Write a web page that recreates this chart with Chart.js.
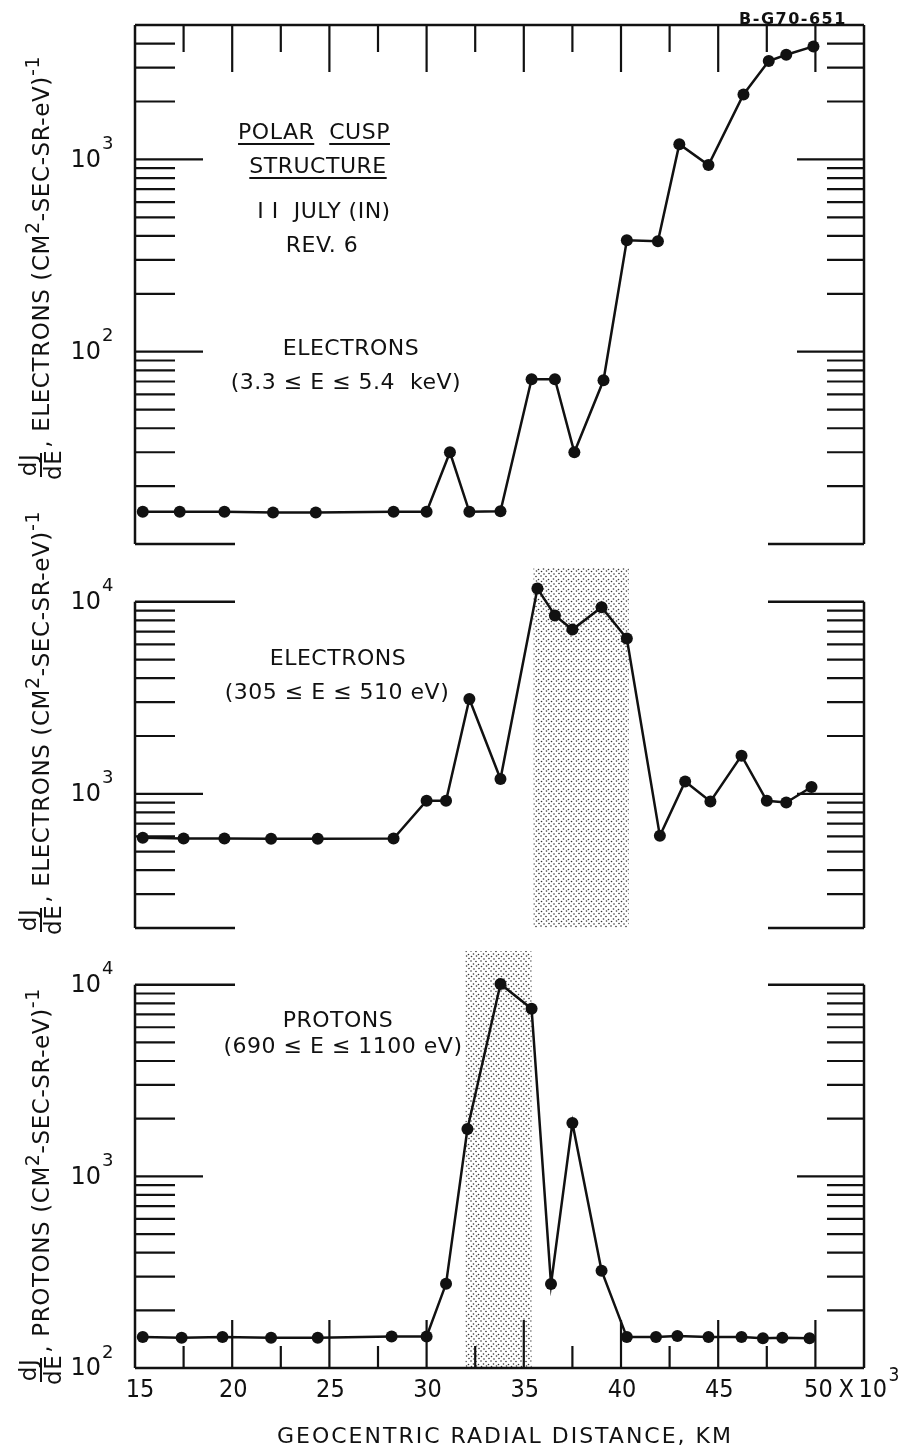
<!DOCTYPE html>
<html lang="en">
<head>
  <meta charset="UTF-8"/>
  <title>Polar Cusp Structure</title>
  <script src="https://cdn.jsdelivr.net/npm/chart.js"></script>
  <style>
    body { margin: 0; background: #fff; }
    #page { position: relative; width: 910px; height: 1454px; background: #fff; overflow: hidden; font-family: 'DejaVu Sans', sans-serif; color: #111; }
    canvas { position: absolute; left: 0; }
    .note { position: absolute; font-size: 22px; line-height: 22px; white-space: nowrap; transform: translate(-50%, -50%); letter-spacing: 0.5px; }
    .note u { text-decoration-thickness: 2px; text-underline-offset: 4px; }
    .ytitle { position: absolute; left: 41px; height: 50px; display: flex; align-items: center; white-space: nowrap;
      font-size: 23px; letter-spacing: 0.6px; transform-origin: 0 50%; transform: rotate(-90deg); }
    .ytitle sup { font-size: 19px; position: relative; top: -9px; line-height: 0; }
    .frac { display: inline-flex; flex-direction: column; align-items: center; font-size: 23px; line-height: 21px; margin-right: 2px; }
    .frac span:first-child { border-bottom: 2px solid #111; padding: 0 1px 1px; }
    .frac span:last-child { padding-top: 1px; }
  </style>
</head>
<body>
  <div id="page">
    <canvas id="c1" width="910" height="560" style="top:0"></canvas>
    <canvas id="c2" width="910" height="395" style="top:545px"></canvas>
    <canvas id="c3" width="910" height="514" style="top:940px"></canvas>

    <div class="note" style="left:793px; top:19px; font-size:16px; font-weight:bold; letter-spacing:1.5px">B-G70-651</div>

    <div class="note" style="left:314px; top:132px"><u>POLAR</u>&nbsp; <u>CUSP</u></div>
    <div class="note" style="left:318px; top:166px"><u>STRUCTURE</u></div>
    <div class="note" style="left:324px; top:211px">I I &nbsp;JULY (IN)</div>
    <div class="note" style="left:322px; top:245px">REV. 6</div>
    <div class="note" style="left:351px; top:348px">ELECTRONS</div>
    <div class="note" style="left:346px; top:382px">(3.3 ≤ E ≤ 5.4 &nbsp;keV)</div>

    <div class="note" style="left:338px; top:658px">ELECTRONS</div>
    <div class="note" style="left:337px; top:692px">(305 ≤ E ≤ 510 eV)</div>

    <div class="note" style="left:338px; top:1020px">PROTONS</div>
    <div class="note" style="left:343px; top:1046px">(690 ≤ E ≤ 1100 eV)</div>

    <div class="note" style="left:505px; top:1436px; letter-spacing:2px">GEOCENTRIC RADIAL DISTANCE, KM</div>

    <div class="ytitle" style="top:455px"><span class="frac"><span>dJ</span><span>dE</span></span>, ELECTRONS (CM<sup>2</sup>-SEC-SR-eV)<sup>-1</sup></div>
    <div class="ytitle" style="top:910px"><span class="frac"><span>dJ</span><span>dE</span></span>, ELECTRONS (CM<sup>2</sup>-SEC-SR-eV)<sup>-1</sup></div>
    <div class="ytitle" style="top:1360px"><span class="frac"><span>dJ</span><span>dE</span></span>, PROTONS (CM<sup>2</sup>-SEC-SR-eV)<sup>-1</sup></div>
  </div>

  <script>
    // x axis, geocentric radial distance (10^3 km)
    const xRange = [15, 52.5]
    const xLabels = [15, 20, 25, 30, 35, 40, 45, 50]
    const xTickMarks = [17.5, 20, 22.5, 25, 27.5, 30, 32.5, 35, 37.5, 40, 42.5, 45, 47.5, 50]

    // electrons 3.3 - 5.4 keV
    const hiX = [15.4, 17.3, 19.6, 22.1, 24.3, 28.3, 30.0, 31.2, 32.2, 33.8, 35.4, 36.6, 37.6, 39.1, 40.3, 41.9, 43.0, 44.5, 46.3, 47.6, 48.5, 49.9]
    const hiY = [14.7, 14.7, 14.7, 14.6, 14.6, 14.7, 14.7, 30, 14.7, 14.8, 72, 72, 30, 71, 380, 375, 1200, 935, 2175, 3250, 3500, 3870]

    // electrons 305 - 510 eV
    const loX = [15.4, 17.5, 19.6, 22.0, 24.4, 28.3, 30.0, 31.0, 32.2, 33.8, 35.7, 36.6, 37.5, 39.0, 40.3, 42.0, 43.3, 44.6, 46.2, 47.5, 48.5, 49.8]
    const loY = [590, 585, 585, 583, 583, 585, 920, 920, 3120, 1195, 11740, 8490, 7170, 9380, 6440, 604, 1160, 912, 1580, 920, 900, 1085]

    // protons 690 - 1100 eV
    const prX = [15.4, 17.4, 19.5, 22.0, 24.4, 28.2, 30.0, 31.0, 32.1, 33.8, 35.4, 36.4, 37.5, 39.0, 40.3, 41.8, 42.9, 44.5, 46.2, 47.3, 48.3, 49.7]
    const prY = [145, 144, 145, 144, 144, 146, 146, 275, 1765, 10100, 7500, 274, 1900, 322, 145, 145, 147, 145, 145, 143, 144, 143]

    // y tick labels (powers of ten) and cusp shading ranges
    const hiLabels = [100, 1000]
    const loLabels = [1000, 10000]
    const prLabels = [100, 1000, 10000]
    const loShade = [35.5, 40.4]
    const prShade = [32.0, 35.4]

    const INK = '#111'

    // stipple pattern for the shaded cusp region
    function stipple() {
      const c = document.createElement('canvas')
      c.width = 10; c.height = 10
      const g = c.getContext('2d')
      g.fillStyle = '#333'
      const dots = [[1, 1], [6, 1.5], [3.5, 4], [8.5, 4.5], [1.5, 6.5], [6.5, 6], [4, 9], [9, 8.5]]
      dots.forEach(d => { g.beginPath(); g.arc(d[0], d[1], 0.8, 0, Math.PI * 2); g.fill() })
      return c
    }

    function line(ctx, x1, y1, x2, y2) {
      ctx.beginPath(); ctx.moveTo(x1, y1); ctx.lineTo(x2, y2); ctx.stroke()
    }

    function drawPow(ctx, x, y, v) {
      const e = Math.round(Math.log10(v))
      ctx.fillStyle = INK
      ctx.textBaseline = 'middle'
      ctx.font = '24px "DejaVu Sans"'
      ctx.textAlign = 'right'
      ctx.fillText('10', x, y + 1)
      ctx.font = '18px "DejaVu Sans"'
      ctx.textAlign = 'left'
      ctx.fillText(String(e), x + 1, y - 15)
    }

    const framePlugin = {
      id: 'frame',
      beforeDatasetsDraw(chart, args, opts) {
        if (!opts.shade) return
        const { ctx, chartArea, scales } = chart
        const x1 = scales.x.getPixelForValue(opts.shade[0])
        const x2 = scales.x.getPixelForValue(opts.shade[1])
        ctx.save()
        ctx.fillStyle = ctx.createPattern(stipple(), 'repeat')
        ctx.fillRect(x1, chartArea.top, x2 - x1, chartArea.bottom - chartArea.top)
        ctx.restore()
      },
      afterDraw(chart, args, opts) {
        const { ctx, chartArea, scales } = chart
        const L = chartArea.left, R = chartArea.right
        const yTop = scales.y.getPixelForValue(opts.axisTop)
        const yBot = scales.y.getPixelForValue(opts.axisBottom)
        ctx.save()
        ctx.strokeStyle = INK
        ctx.lineWidth = 2.5
        line(ctx, L, yTop, L, yBot)
        line(ctx, R, yTop, R, yBot)
        if (opts.topLine) line(ctx, L, yTop, R, yTop)
        if (opts.capTop) { line(ctx, L, yTop, L + 100, yTop); line(ctx, R - 96, yTop, R, yTop) }
        if (opts.capBottom) { line(ctx, L, yBot, L + 100, yBot); line(ctx, R - 96, yBot, R, yBot) }
        if (opts.bottomAxis) line(ctx, L, yBot, R, yBot)

        ctx.lineWidth = 2.2
        xTickMarks.forEach(v => {
          const px = scales.x.getPixelForValue(v)
          const major = v % 5 === 0
          if (opts.topTicks) line(ctx, px, yTop, px, yTop + (major ? 47 : 27))
          if (opts.bottomAxis) line(ctx, px, yBot, px, yBot - (major ? 48 : 22))
        })

        // log ticks: long at powers of ten, short at 2..9 multiples
        const k0 = Math.floor(Math.log10(opts.axisBottom)), k1 = Math.ceil(Math.log10(opts.axisTop))
        for (let k = k0; k <= k1; k++) {
          for (let m = 1; m <= 9; m++) {
            const v = m * Math.pow(10, k)
            if (v <= opts.axisBottom * 1.001 || v >= opts.axisTop * 0.999) continue
            const py = scales.y.getPixelForValue(v)
            const major = m === 1
            line(ctx, L, py, L + (major ? 68 : 40), py)
            line(ctx, R - (major ? 67 : 37), py, R, py)
          }
        }

        opts.labels.forEach(v => drawPow(ctx, 101, scales.y.getPixelForValue(v), v))

        if (opts.xLabels) {
          ctx.fillStyle = INK
          ctx.textBaseline = 'middle'
          ctx.font = '25px "DejaVu Sans Condensed", "DejaVu Sans"'
          const ly = yBot + 22
          xLabels.forEach(v => {
            const px = scales.x.getPixelForValue(v)
            if (v === 50) {
              ctx.textAlign = 'center'
              ctx.fillText('50', px + 3, ly)
              ctx.textAlign = 'left'
              ctx.fillText('X', px + 23, ly)
              ctx.fillText('10', px + 43, ly)
              ctx.font = '19px "DejaVu Sans Condensed", "DejaVu Sans"'
              ctx.fillText('3', px + 73, ly - 14)
              ctx.font = '25px "DejaVu Sans Condensed", "DejaVu Sans"'
            } else {
              ctx.textAlign = 'center'
              ctx.fillText(String(v), px + (v === 15 ? 5 : 1), ly)
            }
          })
        }
        ctx.restore()
      }
    }

    function makePanel(id, xs, ys, pad, yMin, yMax, frame) {
      return new Chart(document.getElementById(id), {
        type: 'line',
        data: {
          datasets: [{
            data: xs.map((x, i) => ({ x: x, y: ys[i] })),
            borderColor: INK,
            borderWidth: 2.5,
            pointRadius: 6,
            pointBackgroundColor: INK,
            pointBorderWidth: 0,
            tension: 0,
            clip: false
          }]
        },
        options: {
          responsive: false,
          animation: false,
          layout: { padding: pad },
          scales: {
            x: { type: 'linear', min: xRange[0], max: xRange[1], display: false },
            y: { type: 'logarithmic', min: yMin, max: yMax, display: false }
          },
          plugins: { legend: { display: false }, tooltip: { enabled: false }, frame: frame }
        },
        plugins: [framePlugin]
      })
    }

    makePanel('c1', hiX, hiY, { left: 135, right: 46, top: 25, bottom: 16 }, 10, 5000,
      { axisTop: 5000, axisBottom: 10, labels: hiLabels, topLine: true, topTicks: true, capBottom: true })

    makePanel('c2', loX, loY, { left: 135, right: 46, top: 23, bottom: 12 }, 200, 15000,
      { axisTop: 10000, axisBottom: 200, labels: loLabels, capTop: true, capBottom: true, shade: loShade })

    makePanel('c3', prX, prY, { left: 135, right: 46, top: 11, bottom: 86 }, 100, 15000,
      { axisTop: 10000, axisBottom: 100, labels: prLabels, capTop: true, bottomAxis: true, xLabels: true, shade: prShade })
  </script>
</body>
</html>
